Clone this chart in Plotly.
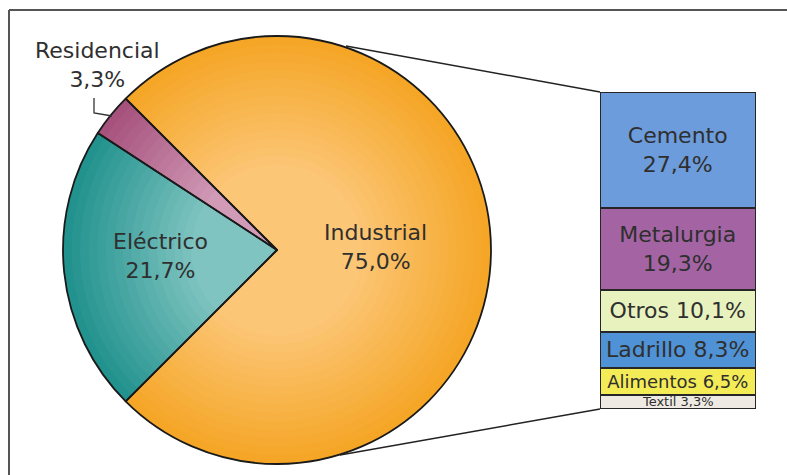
import plotly.graph_objects as go

# ---- data ----
pie_labels = ["Industrial", "Eléctrico", "Residencial"]
pie_values = [75.0, 21.7, 3.3]
pie_rim = ["#F5A627", "#22928E", "#A6527C"]
pie_core = ["#FCC677", "#80C4C1", "#D19AB7"]

ind_labels = ["Textil", "Alimentos", "Ladrillo", "Otros", "Metalurgia", "Cemento"]
ind_values = [3.3, 6.5, 8.3, 10.1, 19.3, 27.4]
ind_colors = ["#EEEAE3", "#F4EC57", "#4F93D6", "#E8F2BF", "#A464A4", "#6C9CDC"]
ind_text = ["Textil 3,3%", "Alimentos 6,5%", "Ladrillo 8,3%", "Otros 10,1%",
            "Metalurgia<br>19,3%", "Cemento<br>27,4%"]
ind_font = [13, 18, 22, 22, 22, 22]

W, H = 787, 475
FONT = "DejaVu Sans"
TXT = "#2f2f2f"

def px(x):
    return x / W

def py(y):
    return 1 - y / H

def mix(c1, c2, t):
    a = [int(c1[i:i + 2], 16) for i in (1, 3, 5)]
    b = [int(c2[i:i + 2], 16) for i in (1, 3, 5)]
    return "#" + "".join(f"{round(a[k] + (b[k] - a[k]) * t):02x}" for k in range(3))

fig = go.Figure()

CX, CY, R = 277, 250, 214
# shaded pie (concentric layers, darker at the rim, lighter inside)
n_layers = 16
for i in range(n_layers):
    t = i / (n_layers - 1)
    f = 1.0 - 0.6 * t
    r = R * f
    fig.add_trace(go.Pie(
        labels=pie_labels, values=pie_values, sort=False,
        direction="clockwise", rotation=-45,
        marker=dict(colors=[mix(a, b, t) for a, b in zip(pie_rim, pie_core)],
                    line=dict(width=0)),
        textinfo="none", hoverinfo="skip", showlegend=False,
        domain=dict(x=[px(CX - r), px(CX + r)], y=[py(CY + r), py(CY - r)]),
    ))
# outline pie on top
fig.add_trace(go.Pie(
    labels=pie_labels, values=pie_values, sort=False,
    direction="clockwise", rotation=-45,
    marker=dict(colors=["rgba(0,0,0,0)"] * 3, line=dict(color="#1a1a1a", width=1.8)),
    textinfo="none", hoverinfo="label+percent", showlegend=False,
    domain=dict(x=[px(CX - R), px(CX + R)], y=[py(CY + R), py(CY - R)]),
))

# stacked bar of industrial breakdown
for lab, val, col, txt, fs in zip(ind_labels, ind_values, ind_colors, ind_text, ind_font):
    fig.add_trace(go.Bar(
        x=[0], y=[val], name=lab, xaxis="x2", yaxis="y2",
        marker=dict(color=col, line=dict(color="#262626", width=2.5)),
        text=[txt], textposition="inside", insidetextanchor="middle",
        textangle=0, constraintext="none",
        textfont=dict(family=FONT, size=fs, color=TXT),
        showlegend=False, hoverinfo="name+y",
    ))

total = sum(ind_values)
fig.update_layout(
    width=W, height=H, margin=dict(l=0, r=0, t=0, b=0),
    paper_bgcolor="white", plot_bgcolor="rgba(0,0,0,0)",
    barmode="stack", bargap=0,
    xaxis2=dict(domain=[px(600), px(756)], range=[-0.5, 0.5], visible=False, anchor="y2"),
    yaxis2=dict(domain=[py(409), py(92)], range=[0, total], visible=False, anchor="x2"),
    xaxis=dict(visible=False), yaxis=dict(visible=False),
    font=dict(family=FONT, color=TXT),
)

# pie labels
ann = [
    ("Industrial<br>75,0%", 375, 247, 22),
    ("Eléctrico<br>21,7%", 160, 256, 22),
    ("Residencial<br>3,3%", 97, 65, 22),
]
for t, x, y, s in ann:
    fig.add_annotation(x=px(x), y=py(y), xref="paper", yref="paper", text=t,
                       showarrow=False, font=dict(family=FONT, size=s, color=TXT),
                       xanchor="center", yanchor="middle", align="center")

# frame
fig.add_shape(type="line", xref="paper", yref="paper", x0=px(9), y0=py(10), x1=1.05, y1=py(10),
              line=dict(color="#555555", width=2))
fig.add_shape(type="line", xref="paper", yref="paper", x0=px(9), y0=py(10), x1=px(9), y1=-0.05,
              line=dict(color="#555555", width=2))

# connector lines from pie to bar
fig.add_shape(type="line", xref="paper", yref="paper", x0=px(346), y0=py(46), x1=px(600), y1=py(92),
              line=dict(color="#222222", width=1.5))
fig.add_shape(type="line", xref="paper", yref="paper", x0=px(340), y0=py(455), x1=px(600), y1=py(409),
              line=dict(color="#222222", width=1.5))

# residencial leader
fig.add_shape(type="path", xref="paper", yref="paper",
              path=f"M {px(94)} {py(98)} L {px(94)} {py(113)} L {px(112)} {py(116)}",
              line=dict(color="#333333", width=1.3))

fig.write_html("out.html", config={"displayModeBar": False},
               post_script="document.body.style.margin='0';document.body.style.overflow='hidden';")
